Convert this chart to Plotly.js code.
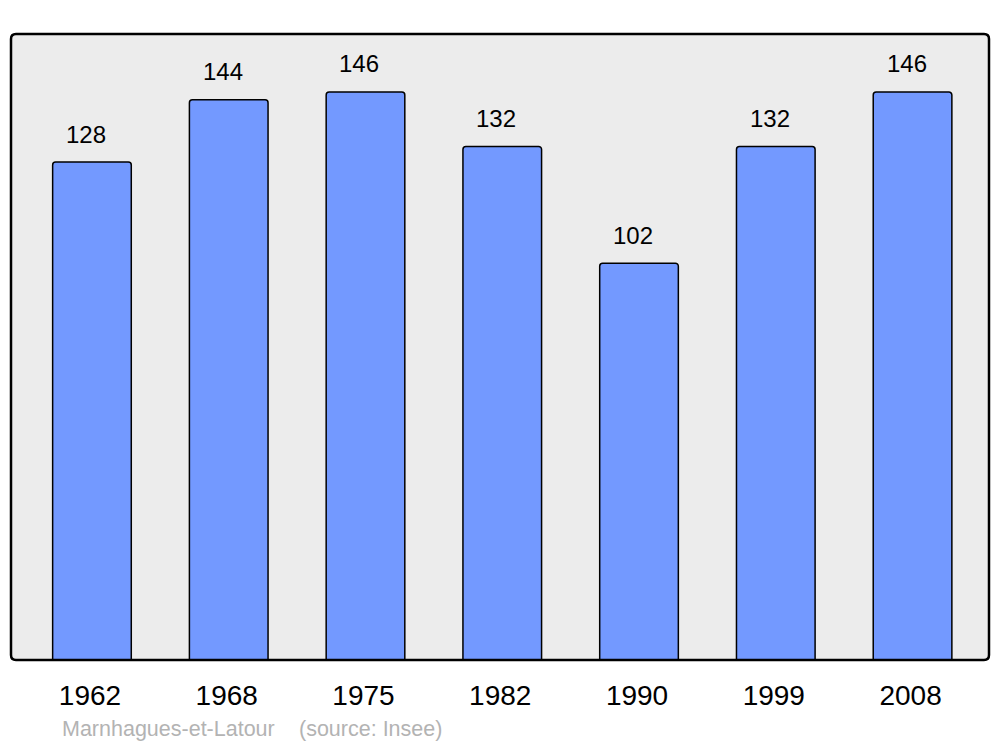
<!DOCTYPE html>
<html>
<head>
<meta charset="utf-8">
<script src="https://cdn.plot.ly/plotly-3.0.1.min.js"></script>
<style>html,body{margin:0;padding:0;background:#fff;}#chart{width:1000px;height:747px;}</style>
</head>
<body>
<div id="chart"></div>
<script>
const years = ["1962", "1968", "1975", "1982", "1990", "1999", "2008"];
const population = [128, 144, 146, 132, 102, 132, 146];
const commune = "Marnhagues-et-Latour";
const source = "(source: Insee)";

const FONT = "Liberation Sans, Arial, sans-serif";

const trace = {
  type: "bar",
  x: years,
  y: population,
  width: 0.575,
  marker: {color: "#7399ff", line: {color: "#000", width: 1.5}, cornerradius: 3},
  hoverinfo: "skip"
};

const annotations = years.map((yr, i) => ({
  x: i, y: population[i], xref: "x", yref: "y",
  text: String(population[i]), showarrow: false,
  yanchor: "middle", xanchor: "center", yshift: 28, xshift: -6,
  font: {family: FONT, size: 24, color: "#000"}
}));
annotations.push({
  xref: "paper", yref: "paper", x: (60 - 11) / 978, y: -(729 - 660) / 626,
  xanchor: "left", yanchor: "middle", showarrow: false, text: commune,
  font: {family: FONT, size: 21.5, color: "#b3b3b3"}
});
annotations.push({
  xref: "paper", yref: "paper", x: (297 - 11) / 978, y: -(729 - 660) / 626,
  xanchor: "left", yanchor: "middle", showarrow: false, text: source,
  font: {family: FONT, size: 21.5, color: "#b3b3b3"}
});

// rounded plot frame in paper coordinates
const rx = 5 / 978, ry = 5 / 626;
const framePath = `M ${rx} 0 L ${1 - rx} 0 Q 1 0 1 ${ry} L 1 ${1 - ry} Q 1 1 ${1 - rx} 1 L ${rx} 1 Q 0 1 0 ${1 - ry} L 0 ${ry} Q 0 0 ${rx} 0 Z`;

const layout = {
  width: 1000, height: 747,
  margin: {l: 11, r: 11, t: 34, b: 87, pad: 0},
  paper_bgcolor: "#ffffff",
  plot_bgcolor: "rgba(0,0,0,0)",
  showlegend: false,
  xaxis: {
    type: "category",
    range: [-0.592, 6.559],
    showgrid: false, zeroline: false, showline: false, ticks: "",
    tickfont: {family: FONT, size: 28, color: "#000"},
    ticklabelstandoff: 16,
    ticklabelshift: -2,
    fixedrange: true
  },
  yaxis: {
    range: [0, 160.9],
    visible: false, showgrid: false, zeroline: false, fixedrange: true
  },
  shapes: [
    {type: "path", xref: "paper", yref: "paper", path: framePath,
     fillcolor: "#ececec", line: {width: 0}, layer: "below"},
    {type: "path", xref: "paper", yref: "paper", path: framePath,
     fillcolor: "rgba(0,0,0,0)", line: {color: "#000", width: 2.5}, layer: "above"}
  ],
  annotations: annotations
};

Plotly.newPlot("chart", [trace], layout, {staticPlot: true, displayModeBar: false});
</script>
</body>
</html>
